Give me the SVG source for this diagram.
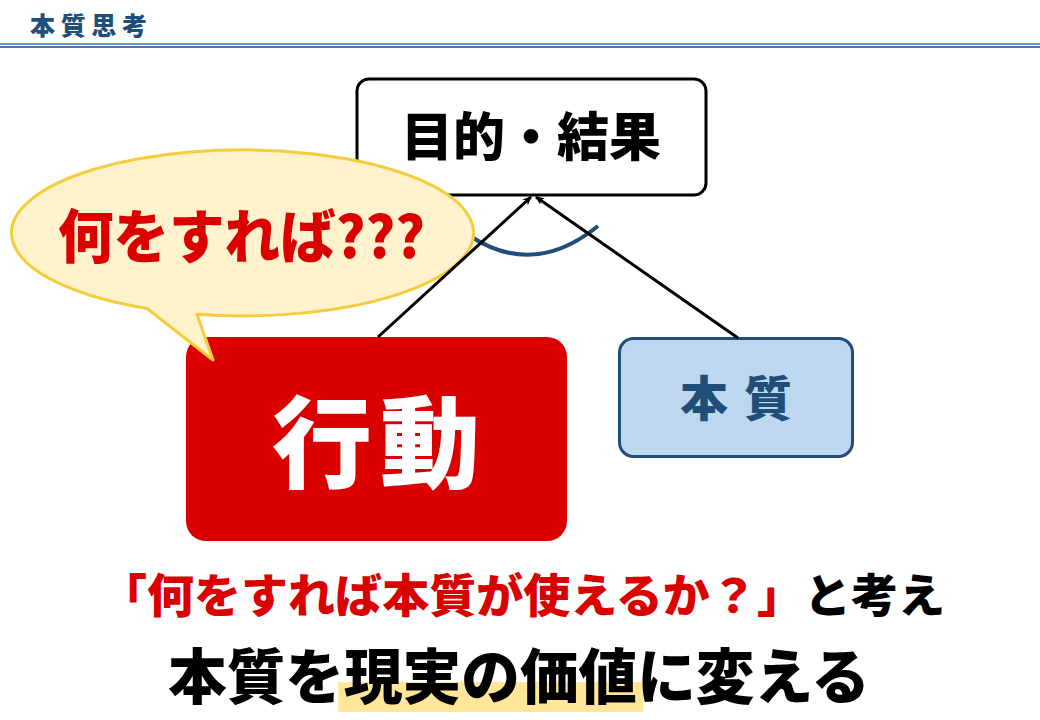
<svg xmlns="http://www.w3.org/2000/svg" width="1040" height="720" viewBox="0 0 1040 720">
<defs>
<marker id="ah" markerWidth="10" markerHeight="10" refX="8" refY="5" orient="auto" markerUnits="userSpaceOnUse">
<path d="M0,1 L9,5 L0,9 L2.5,5 Z" fill="#000"/>
</marker>
<style>
.jp{font-family:"Noto Sans CJK JP","Noto Sans CJK SC",sans-serif;font-weight:900;}
.conn{stroke:#000;stroke-width:3;fill:none;marker-end:url(#ah);}
</style>
</defs>
<rect width="1040" height="720" fill="#ffffff"/>
<g id="header">
<text class="jp" x="30" y="35" font-size="25" fill="#1f4e79" textLength="117" lengthAdjust="spacing">本質思考</text>
<line x1="0" y1="44" x2="1040" y2="44" stroke="#5b9bd5" stroke-width="2"/>
<line x1="0" y1="47" x2="1040" y2="47" stroke="#1f4e79" stroke-width="1.5"/>
</g>
<g id="node-goal">
<rect x="357" y="79" width="349" height="116" rx="12" fill="#fff" stroke="#000" stroke-width="3"/>
<text class="jp" x="531" y="156" font-size="52" fill="#000" text-anchor="middle">目的・結果</text>
</g>
<g id="node-action">
<rect x="186" y="337" width="381" height="204" rx="20" fill="#db0000"/>
<text class="jp" x="272" y="480" font-size="100" fill="#fff" textLength="208" lengthAdjust="spacing">行動</text>
</g>
<g id="node-essence">
<rect x="619.5" y="338.5" width="233" height="118" rx="14" fill="#bdd7ee" stroke="#1f4e79" stroke-width="3"/>
<text class="jp" x="680" y="416" font-size="48" fill="#1f4e79" textLength="112" lengthAdjust="spacing">本質</text>
</g>
<g id="angle-arc">
<path d="M470,236 Q534,278 598,226" fill="none" stroke="#1f4e79" stroke-width="4"/>
</g>
<g id="bubble">
<path d="M147,308.5 A231,83 0 1 1 197,314.3 L213,360 Z" fill="#fff2cc" stroke="#f5cd3b" stroke-width="3" stroke-linejoin="round"/>
<text class="jp" x="58" y="258" font-size="58" fill="#db0000" textLength="367" lengthAdjust="spacingAndGlyphs">何をすれば???</text>
</g>
<g id="connectors">
<line class="conn" x1="378" y1="337" x2="531" y2="197"/>
<line class="conn" x1="738" y1="338" x2="536" y2="197"/>
</g>
<g id="caption">
<text class="jp" x="100" y="612" font-size="46" textLength="845" lengthAdjust="spacingAndGlyphs"><tspan fill="#db0000">「何をすれば本質が使えるか？」</tspan><tspan fill="#000">と考え</tspan></text>
<rect x="338" y="682" width="305" height="30" fill="#ffe699"/>
<text class="jp" x="168" y="699" font-size="60" fill="#000" textLength="702" lengthAdjust="spacingAndGlyphs">本質を現実の価値に変える</text>
</g>
</svg>
